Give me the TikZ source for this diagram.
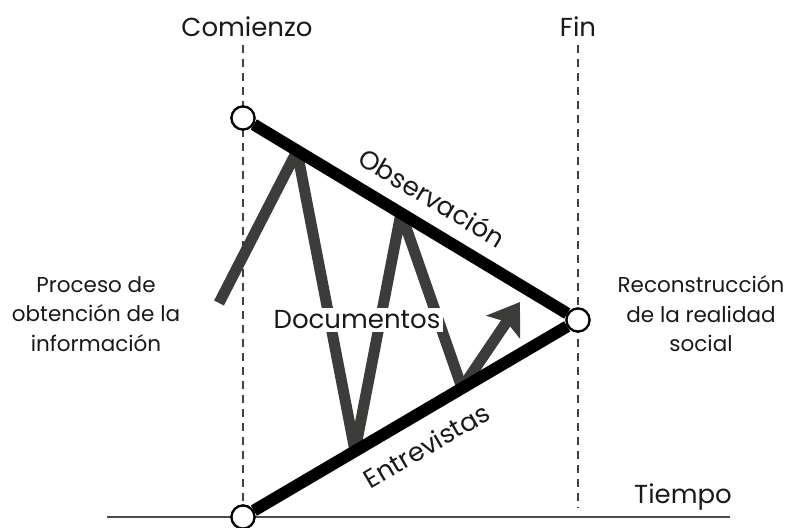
\documentclass[tikz,border=0pt]{standalone}
\usepackage{fontspec}
\setmainfont{Poppins}
\usetikzlibrary{arrows.meta}
\definecolor{zig}{HTML}{3C3C3A}
\begin{document}
\begin{tikzpicture}[x=1pt,y=-1pt,
  dot/.style={circle,draw=black,fill=white,line width=2.2pt,minimum size=23pt,inner sep=0pt},
  guide/.style={draw=black!75,line width=1.8pt,dash pattern=on 8pt off 6pt},
  thick line/.style={line width=12pt,black},
  zigline/.style={line width=11pt,zig,line join=bevel},
  big/.style={font=\fontsize{26}{30}\selectfont,text=black!90},
  lbl/.style={font=\fontsize{21.5}{29.5}\selectfont,align=center,text=black!90}]
\useasboundingbox (0,0) rectangle (791,527);
% guides
\coordinate (g1t) at (243,45); \coordinate (g1b) at (243,508);
\coordinate (g2t) at (578,45); \coordinate (g2b) at (578,508);
\draw[guide] (g1t) -- (g1b);
\draw[guide] (g2t) -- (g2b);
\coordinate (axL) at (107,517); \coordinate (axR) at (730,517);
\draw[line width=1.8pt,black!70] (axL) -- (axR);
\node[big] (com) at (247,27) {Comienzo};
\node[big] (fin) at (578,27) {Fin};
\node[big] (tie) at (683,497) {Tiempo};
% zigzag
\coordinate (z0) at (219,303);
\coordinate (z1) at (297,151);
\coordinate (z2) at (355,451);
\coordinate (z3) at (401,213);
\coordinate (z4) at (462,388);
\coordinate (z5) at (520,302);
\draw[zigline] (z0) -- (z1) -- (z2) -- (z3) -- (z4);
\draw[zigline,-{Stealth[length=30pt,width=40pt,inset=6pt]}] (z4) -- (z5);
\node[big,fill=white,inner sep=3pt] (doc) at (357,320) {Documentos};
% triangle
\node[dot] (top) at (243,118) {};
\node[dot] (rgt) at (578,320) {};
\node[dot] (bot) at (243,517) {};
\draw[thick line] (top) -- node[sloped,above=10pt,pos=0.52,big]{Observación} (rgt);
\draw[thick line] (bot) -- node[sloped,below=12pt,pos=0.5,big]{Entrevistas} (rgt);
\node[dot] at (top) {};
\node[dot] at (rgt) {};
\node[dot] at (bot) {};
% side labels
\node[lbl] (proc) at (96,314) {Proceso de\\obtención de la\\información};
\node[lbl] (rec) at (701,314) {Reconstrucción\\de la realidad\\social};
\end{tikzpicture}
\end{document}
